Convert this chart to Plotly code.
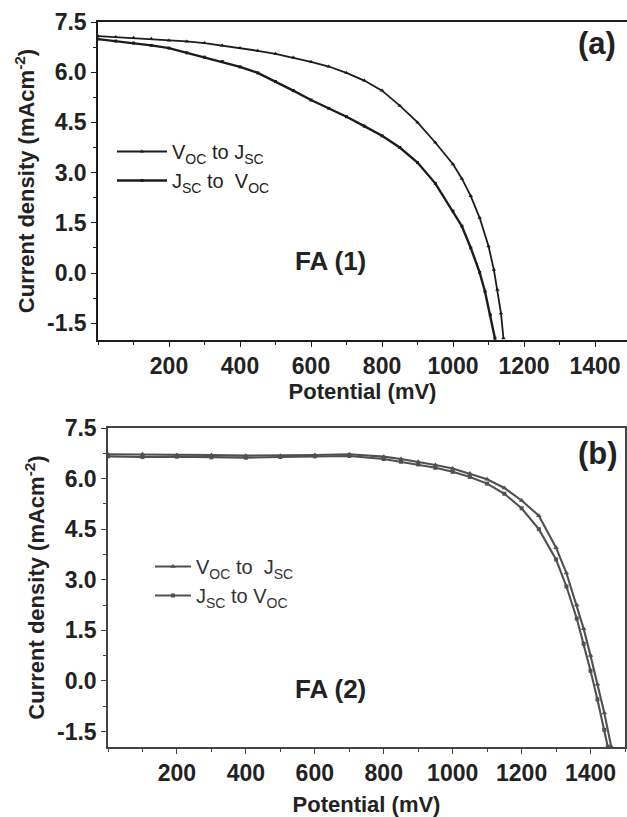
import plotly.graph_objects as go

# ---------------- data: panel (a) FA (1) ----------------
a_voc_jsc_x = [0, 50, 100, 150, 200, 250, 300, 350, 400, 450, 500, 550, 600, 650, 700,
               750, 800, 850, 900, 950, 1000, 1025, 1050, 1075, 1100, 1115, 1125, 1135, 1142]
a_voc_jsc_y = [7.08, 7.05, 7.03, 7.0, 6.95, 6.92, 6.87, 6.8, 6.72, 6.64, 6.55, 6.44, 6.31, 6.17, 5.98,
               5.75, 5.45, 5.0, 4.5, 3.9, 3.25, 2.82, 2.3, 1.65, 0.8, 0.1, -0.5, -1.2, -1.95]

a_jsc_voc_x = [0, 50, 100, 150, 200, 250, 300, 350, 400, 450, 500, 550, 600, 650, 700,
               750, 800, 850, 900, 950, 1000, 1025, 1050, 1075, 1090, 1105, 1118]
a_jsc_voc_y = [6.99, 6.93, 6.87, 6.8, 6.72, 6.58, 6.45, 6.32, 6.16, 5.98, 5.72, 5.45, 5.17, 4.92, 4.67,
               4.39, 4.1, 3.75, 3.3, 2.68, 1.85, 1.4, 0.75, 0.02, -0.55, -1.25, -1.95]

# ---------------- data: panel (b) FA (2) ----------------
b_voc_jsc_x = [0, 100, 200, 300, 400, 500, 600, 700, 800, 850, 900, 950, 1000, 1050, 1100,
               1150, 1200, 1250, 1300, 1330, 1360, 1380, 1400, 1420, 1440, 1460]
b_voc_jsc_y = [6.72, 6.72, 6.7, 6.7, 6.68, 6.68, 6.7, 6.72, 6.65, 6.58, 6.5, 6.4, 6.3, 6.15, 5.98,
               5.72, 5.35, 4.9, 3.95, 3.2, 2.25, 1.55, 0.75, -0.1, -0.95, -1.95]

b_jsc_voc_x = [0, 100, 200, 300, 400, 500, 600, 700, 800, 850, 900, 950, 1000, 1050, 1100,
               1150, 1200, 1250, 1300, 1330, 1360, 1380, 1400, 1420, 1440, 1450]
b_jsc_voc_y = [6.66, 6.64, 6.65, 6.63, 6.62, 6.64, 6.66, 6.67, 6.58, 6.5, 6.42, 6.32, 6.2, 6.05, 5.85,
               5.55, 5.12, 4.5, 3.6, 2.8, 1.85, 1.1, 0.3, -0.55, -1.45, -1.95]

x_tick_vals = [200, 400, 600, 800, 1000, 1200, 1400]
x_tick_text = ["200", "400", "600", "800", "1000", "1200", "1400"]
y_tick_vals = [-1.5, 0.0, 1.5, 3.0, 4.5, 6.0, 7.5]
y_tick_text = ["-1.5", "0.0", "1.5", "3.0", "4.5", "6.0", "7.5"]

name_voc = "V<sub>OC</sub> to J<sub>SC</sub>"
name_jsc = "J<sub>SC</sub> to  V<sub>OC</sub>"
name_voc_b = "V<sub>OC</sub> to  J<sub>SC</sub>"
name_jsc_b = "J<sub>SC</sub> to V<sub>OC</sub>"

FONT = "Liberation Sans, Arial, sans-serif"
BLACK = "#1c1c1c"
GREY = "#505050"
W, H = 627, 817

fig = go.Figure()

fig.add_trace(go.Scatter(x=a_voc_jsc_x, y=a_voc_jsc_y, name=name_voc, mode="lines+markers",
                         line=dict(color=BLACK, width=1.8),
                         marker=dict(symbol="triangle-up", size=4, color=BLACK),
                         xaxis="x", yaxis="y", legend="legend"))
fig.add_trace(go.Scatter(x=a_jsc_voc_x, y=a_jsc_voc_y, name=name_jsc, mode="lines+markers",
                         line=dict(color=BLACK, width=2.4),
                         marker=dict(symbol="square", size=3, color=BLACK),
                         xaxis="x", yaxis="y", legend="legend"))
fig.add_trace(go.Scatter(x=b_voc_jsc_x, y=b_voc_jsc_y, name=name_voc_b, mode="lines+markers",
                         line=dict(color=GREY, width=2.1),
                         marker=dict(symbol="triangle-up", size=5, color=GREY),
                         xaxis="x2", yaxis="y2", legend="legend2"))
fig.add_trace(go.Scatter(x=b_jsc_voc_x, y=b_jsc_voc_y, name=name_jsc_b, mode="lines+markers",
                         line=dict(color=GREY, width=2.1),
                         marker=dict(symbol="square", size=4, color=GREY),
                         xaxis="x2", yaxis="y2", legend="legend2"))

tickfont = dict(family=FONT, size=23, color="#222222", weight="bold")
titlefont = dict(family=FONT, size=22, color="#222222", weight="bold")

def xaxis(domain, rng, anchor, linecolor, standoff, mirror):
    return dict(domain=domain, range=rng, anchor=anchor, showgrid=False, zeroline=False,
                automargin=False,
                showline=True, linecolor=linecolor, linewidth=1.5, mirror=mirror,
                tickmode="array", tickvals=x_tick_vals, ticktext=x_tick_text,
                ticks="outside", ticklen=5, tickwidth=1.3, tickcolor=linecolor,
                minor=dict(tickmode="linear", tick0=0, dtick=100, ticks="outside",
                           ticklen=3, tickwidth=1.2, tickcolor=linecolor),
                tickfont=tickfont,
                title=dict(text="Potential (mV)", font=titlefont, standoff=standoff))

def yaxis(domain, rng, anchor, linecolor, mirror):
    return dict(domain=domain, range=rng, anchor=anchor, showgrid=False, zeroline=False,
                automargin=False,
                showline=True, linecolor=linecolor, linewidth=1.5, mirror=mirror,
                tickmode="array", tickvals=y_tick_vals, ticktext=y_tick_text,
                ticks="outside", ticklen=5, tickwidth=1.3, tickcolor=linecolor,
                minor=dict(tickmode="linear", tick0=0, dtick=0.75, ticks="outside",
                           ticklen=3, tickwidth=1.2, tickcolor=linecolor),
                tickfont=tickfont,
                title=dict(text="Current density (mAcm<sup>-2</sup>)", font=titlefont, standoff=6))

fig.update_layout(
    width=W, height=H,
    margin=dict(l=0, r=0, t=0, b=0, autoexpand=False),
    paper_bgcolor="white", plot_bgcolor="white",
    xaxis=xaxis([98 / W, 1.0], [0, 1490], "y", BLACK, 0, True),
    yaxis=yaxis([1 - 340 / H, 1 - 22 / H], [-2.0, 7.5], "x", BLACK, False),
    xaxis2=xaxis([108 / W, 625 / W], [0, 1500], "y2", "#444444", 18, True),
    yaxis2=yaxis([1 - 747 / H, 1 - 428 / H], [-1.96, 7.5], "x2", "#444444", True),
    legend=dict(x=112 / W, y=1 - 132 / H, xanchor="left", yanchor="top",
                bgcolor="rgba(0,0,0,0)", font=dict(family=FONT, size=20, color="#222222"),
                tracegroupgap=0, itemwidth=50),
    legend2=dict(x=150 / W, y=1 - 547 / H, xanchor="left", yanchor="top",
                 bgcolor="rgba(0,0,0,0)", font=dict(family=FONT, size=20, color="#333333"),
                 tracegroupgap=0, itemwidth=36),
    showlegend=True,
    annotations=[
        dict(text="(a)", x=1405, y=6.85, xref="x", yref="y", showarrow=False,
             font=dict(family=FONT, size=31, color="#222222", weight="bold")),
        dict(text="FA (1)", x=655, y=0.35, xref="x", yref="y", showarrow=False,
             font=dict(family=FONT, size=26, color="#222222", weight="bold")),
        dict(text="(b)", x=1422, y=6.75, xref="x2", yref="y2", showarrow=False,
             font=dict(family=FONT, size=31, color="#222222", weight="bold")),
        dict(text="FA (2)", x=645, y=-0.25, xref="x2", yref="y2", showarrow=False,
             font=dict(family=FONT, size=26, color="#222222", weight="bold")),
    ],
)

fig.write_html("out.html")
